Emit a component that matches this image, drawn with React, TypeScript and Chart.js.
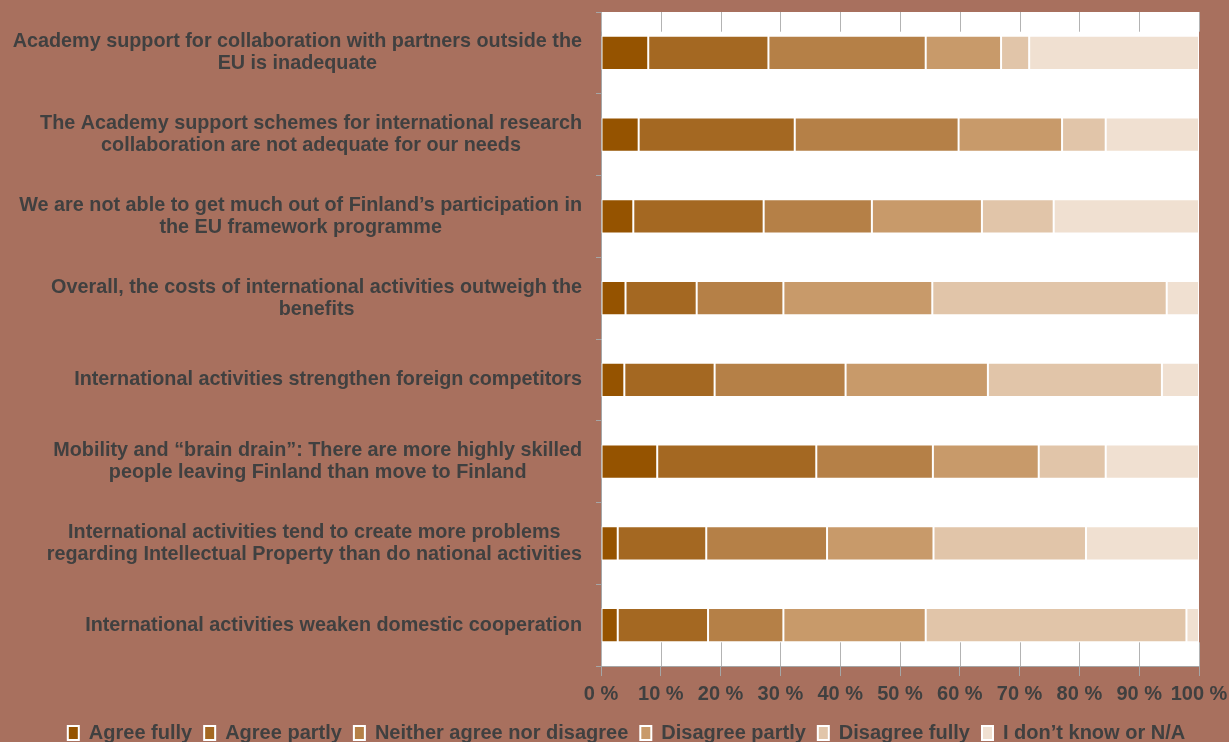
import React, { useEffect, useRef } from "react";
import { Chart, registerables } from "chart.js";

Chart.register(...registerables);

const categories: string[][] = [
  ["Academy support for collaboration with partners outside the", "EU is inadequate"],
  ["The Academy support schemes for international research", "collaboration are not adequate for our needs"],
  ["We are not able to get much out of Finland\u2019s participation in", "the EU framework programme"],
  ["Overall, the costs of international activities outweigh the", "benefits"],
  ["International activities strengthen foreign competitors"],
  ["Mobility and \u201cbrain drain\u201d: There are more highly skilled", "people leaving Finland than move to Finland"],
  ["International activities tend to create more problems", "regarding Intellectual Property than do national activities"],
  ["International activities weaken domestic cooperation"],
];

const seriesNames = [
  "Agree fully",
  "Agree partly",
  "Neither agree nor disagree",
  "Disagree partly",
  "Disagree fully",
  "I don\u2019t know or N/A",
];

const agreeFully = [7.9, 6.3, 5.4, 4.1, 3.9, 9.4, 2.8, 2.8];
const agreePartly = [20.1, 26.1, 21.8, 11.9, 15.1, 26.6, 14.8, 15.1];
const neither = [26.3, 27.4, 18.1, 14.5, 21.9, 19.5, 20.2, 12.6];
const disagreePartly = [12.6, 17.3, 18.4, 24.9, 23.8, 17.7, 17.8, 23.8];
const disagreeFully = [4.7, 7.3, 12.0, 39.2, 29.1, 11.2, 25.5, 43.6];
const dontKnow = [28.4, 15.6, 24.3, 5.4, 6.2, 15.6, 18.9, 2.1];

const xTicks = [0, 10, 20, 30, 40, 50, 60, 70, 80, 90, 100];

const colors = ["#955300", "#A46822", "#B58047", "#C89A6A", "#E1C5A9", "#F0E0D1"];

const FONT = '"Liberation Sans", Arial, Helvetica, sans-serif';
const TEXT = "#404040";
const BG = "#A8705E";

const plotBgPlugin = {
  id: "plotBg",
  beforeDraw(chart: any) {
    const { ctx, chartArea } = chart;
    ctx.save();
    ctx.fillStyle = "#ffffff";
    ctx.fillRect(chartArea.left, chartArea.top, chartArea.right - chartArea.left, chartArea.bottom - chartArea.top);
    ctx.restore();
  },
};

const legendShiftPlugin = {
  id: "legendShift",
  afterLayout(chart: any) {
    if (chart.legend) {
      chart.legend.left += 54;
    }
  },
};

const partialGridPlugin = {
  id: "partialGrid",
  beforeDatasetsDraw(chart: any) {
    const { ctx, chartArea } = chart;
    const xs = chart.scales.x;
    const meta0 = chart.getDatasetMeta(0);
    const first = meta0.data[0];
    const last = meta0.data[meta0.data.length - 1];
    if (!first || !last) return;
    const topEnd = first.y - first.height / 2 - 4;
    const botStart = last.y + last.height / 2;
    ctx.save();
    ctx.strokeStyle = "#b3b3b3";
    ctx.lineWidth = 1;
    xTicks.forEach((v) => {
      const x = Math.round(xs.getPixelForValue(v)) + 0.5;
      ctx.beginPath();
      ctx.moveTo(x, chartArea.top);
      ctx.lineTo(x, topEnd);
      ctx.moveTo(x, botStart);
      ctx.lineTo(x, chartArea.bottom);
      ctx.stroke();
    });
    ctx.restore();
  },
};

const yLabelPlugin = {
  id: "yLabels",
  afterDraw(chart: any) {
    const { ctx } = chart;
    const ys = chart.scales.y;
    ctx.save();
    ctx.font = `bold 19.8px ${FONT}`;
    ctx.fillStyle = TEXT;
    ctx.textAlign = "center";
    ctx.textBaseline = "middle";
    const right = ys.right - 19;
    const lh = 22;
    categories.forEach((lines, i) => {
      const y = ys.getPixelForTick(i);
      const w = Math.max(...lines.map((l) => ctx.measureText(l).width));
      const cx = right - w / 2;
      lines.forEach((l, j) => {
        ctx.fillText(l, cx, y + (j - (lines.length - 1) / 2) * lh);
      });
    });
    ctx.restore();
  },
};

export default function App() {
  const ref = useRef<HTMLCanvasElement | null>(null);

  useEffect(() => {
    document.body.style.margin = "0";
    const series = [agreeFully, agreePartly, neither, disagreePartly, disagreeFully, dontKnow];
    const chart = new Chart(ref.current as HTMLCanvasElement, {
      type: "bar",
      data: {
        labels: categories.map((c) => c.join(" ")),
        datasets: series.map((d, i) => ({
          label: seriesNames[i],
          data: d,
          backgroundColor: colors[i],
          borderColor: "#ffffff",
          borderWidth: 1,
          borderSkipped: false,
          barPercentage: 0.42,
          categoryPercentage: 1,
        })),
      },
      options: {
        indexAxis: "y",
        animation: false,
        responsive: true,
        maintainAspectRatio: false,
        layout: { padding: { top: 12, right: 30, left: 0, bottom: -11 } },
        scales: {
          x: {
            stacked: true,
            min: 0,
            max: 100,
            afterBuildTicks: (axis: any) => {
              axis.ticks = xTicks.map((v) => ({ value: v }));
            },
            afterFit: (axis: any) => {
              axis.height = 45;
              axis.paddingLeft = 0;
              axis.paddingRight = 0;
            },
            ticks: {
              callback: (v: any) => `${v} %`,
              color: TEXT,
              font: { family: FONT, size: 20, weight: "bold" },
              padding: 6,
              maxRotation: 0,
            },
            grid: {
              drawOnChartArea: false,
              drawTicks: true,
              tickLength: 10,
              color: "#a6a6a6",
            },
            border: { display: true, color: "#a6a6a6" },
          },
          y: {
            stacked: true,
            afterFit: (axis: any) => {
              axis.width = 601;
              axis.paddingTop = 0;
              axis.paddingBottom = 0;
            },
            ticks: {
              color: "rgba(0,0,0,0)",
              font: { family: FONT, size: 1 },
              padding: 14,
            },
            grid: {
              offset: true,
              drawOnChartArea: false,
              tickLength: 5,
              color: "#a6a6a6",
            },
            border: { display: true, color: "#a6a6a6" },
          },
        },
        plugins: {
          tooltip: { enabled: false },
          legend: {
            position: "bottom",
            labels: {
              color: TEXT,
              font: { family: FONT, size: 20, weight: "bold" },
              boxWidth: 11,
              boxHeight: 14,
              padding: 12,
              generateLabels: (c: any) =>
                Chart.defaults.plugins.legend.labels
                  .generateLabels(c)
                  .map((l: any) => ({ ...l, lineWidth: 2, strokeStyle: "#ffffff" })),
            },
          },
        },
      },
      plugins: [plotBgPlugin, partialGridPlugin, yLabelPlugin, legendShiftPlugin],
    } as any);
    return () => chart.destroy();
  }, []);

  return (
    <div style={{ position: "fixed", left: 0, top: 0, width: 1229, height: 742, background: BG }}>
      <canvas ref={ref} />
    </div>
  );
}
